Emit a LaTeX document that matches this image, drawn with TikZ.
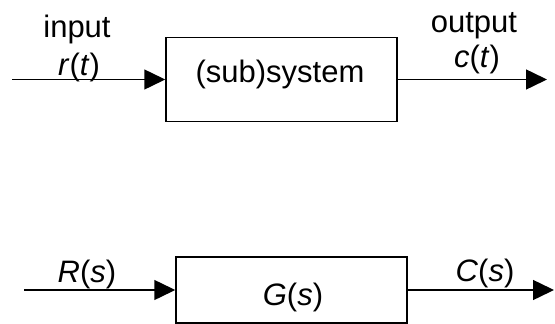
\documentclass[tikz,border=0pt]{standalone}
\usepackage{fontspec}
\setmainfont{Liberation Sans}
\usetikzlibrary{positioning,arrows.meta}

\begin{document}
\begin{tikzpicture}[x=1pt,y=-1pt,
  every node/.style={font=\fontsize{31}{37}\selectfont},
  blocknode/.style={draw,line width=1.5pt,inner sep=0pt,minimum width=231pt},
  txtnode/.style={anchor=base,inner sep=0pt},
  sig/.style={line width=1.5pt,-{Triangle[length=21pt,width=20pt]}}
]
\useasboundingbox (0,0) rectangle (555,324);

% the time domain block
\node[blocknode,minimum height=84pt] (sys) at (281.5,79.5) {};
\node[txtnode] (systxt) at (280,82) {(sub)system};
\coordinate (rin) at (12,79.5);
\coordinate (cout) at (547,79.5);
\draw[sig] (rin) -- (sys.west);
\draw[sig] (sys.east) -- (cout);
\node[txtnode] (intxt) at (77,37) {input};
\node[txtnode] (rt) at (79,75) {\textit{r}(\textit{t})};
\node[txtnode] (outtxt) at (474,32) {output};
\node[txtnode] (ct) at (477,67) {\textit{c}(\textit{t})};

% the s domain block
\node[blocknode,minimum height=66pt] (G) at (291.5,290) {};
\node[txtnode] (Gtxt) at (293,305) {\textit{G}(\textit{s})};
\coordinate (Rin) at (24,290);
\coordinate (Cout) at (554,290);
\draw[sig] (Rin) -- (G.west);
\draw[sig] (G.east) -- (Cout);
\node[txtnode] (Rs) at (87,282) {\textit{R}(\textit{s})};
\node[txtnode] (Cs) at (485,281) {\textit{C}(\textit{s})};

\end{tikzpicture}
\end{document}
